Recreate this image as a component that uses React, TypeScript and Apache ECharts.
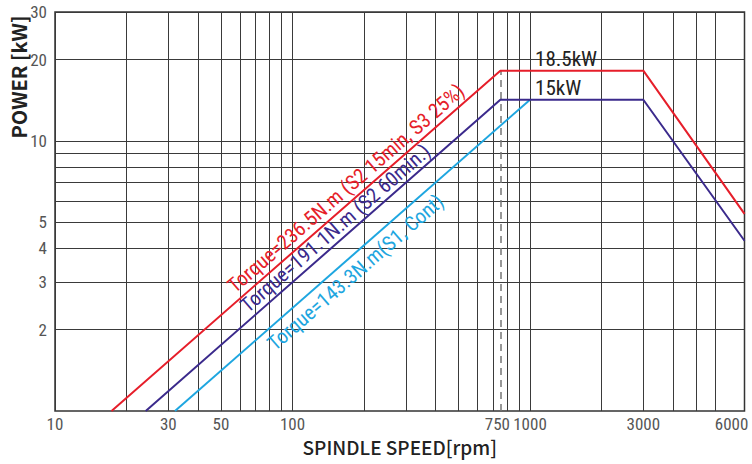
import React, { useEffect, useRef } from "react";
import * as echarts from "echarts";

// ---- axis ranges (log axes) ----
const X_MIN = 10;
const X_MAX = 8000;
const Y_MIN = 1;
const Y_MAX = 30;

// ---- grid lines and tick labels ----
const xGridValues = [20, 30, 40, 50, 60, 70, 80, 90, 100, 200, 300, 400, 500, 600, 700, 800, 900, 1000, 2000, 3000, 4000, 5000, 6000];
const xTickLabels = [10, 30, 50, 100, 1000, 3000, 6000];
const yGridValues = [2, 3, 4, 5, 6, 7, 8, 9, 10, 20];
const yTickLabels = [2, 3, 4, 5, 10, 20, 30];
const baseSpeedMark = 750;

// ---- series values (speed rpm, power kW) ----
const s2s3Speed = [17.3, 750, 3000, 8000];
const s2s3Power = [1, 18.2, 18.2, 5.37];
const s2Speed = [24.1, 750, 3000, 8000];
const s2Power = [1, 14.2, 14.2, 4.27];
const s1Speed = [32, 1000];
const s1Power = [1, 14.2];

// ---- texts ----
const ratedLabels = ["18.5kW", "15kW"];
const torqueLabels = [
  "Torque=236.5N.m (S2 15min, S3 25%)",
  "Torque=191.1N.m (S2 60min.)",
  "Torque=143.3N.m(S1, Cont)",
];
const xAxisName = "SPINDLE SPEED[rpm]";
const yAxisName = "POWER [kW]";

const RED = "#e61e2a";
const NAVY = "#3b2a8c";
const CYAN = "#1ea6e0";
const GRID = "#3a3a3a";
const KR = "'Noto Sans CJK KR', 'Noto Sans', sans-serif";
const COND = "'Roboto Condensed', 'Liberation Sans', sans-serif";

const pairs = (xs: number[], ys: number[]) => xs.map((x, i) => [x, ys[i]]);

export default function App() {
  const ref = useRef<HTMLDivElement>(null);

  useEffect(() => {
    const chart = echarts.init(ref.current!, null, { renderer: "svg" });

    const tickStyle = { color: "#555", fontSize: 17, fontFamily: COND };
    const vLines = [X_MIN, ...xGridValues].map((v) => ({
      xAxis: v,
      label: {
        show: xTickLabels.includes(v),
        formatter: String(v),
        position: "start",
        distance: 4,
        align: v === 6000 ? "left" : "center",
        verticalAlign: "top",
        ...tickStyle,
      },
    }));
    const hLines = [...yGridValues, Y_MAX].map((v) => ({
      yAxis: v,
      label: {
        show: yTickLabels.includes(v),
        formatter: String(v),
        position: "start",
        distance: 8,
        align: "right",
        verticalAlign: "middle",
        ...tickStyle,
      },
    }));

    const torqueLabel = (text: string, color: string) => ({
      show: true,
      position: "inside",
      formatter: text,
      rotate: 41,
      color,
      fontSize: 20.5,
      fontFamily: COND,
    });
    const ratedLabel = (text: string) => ({
      show: true,
      position: "top",
      align: "left",
      distance: 1,
      offset: [5, 0],
      formatter: text,
      color: "#222",
      fontSize: 21,
      fontFamily: COND,
    });
    const markPointBase = {
      silent: true,
      animation: false,
      symbol: "circle",
      symbolSize: 1,
      itemStyle: { color: "rgba(0,0,0,0)" },
    };

    chart.setOption({
      animation: false,
      backgroundColor: "#ffffff",
      grid: {
        left: 55,
        right: 7.5,
        top: 12,
        bottom: 53,
        show: true,
        borderColor: "#333",
        borderWidth: 1.5,
      },
      xAxis: {
        type: "log",
        logBase: 10,
        min: X_MIN,
        max: X_MAX,
        axisLine: { show: false },
        axisTick: { show: false },
        axisLabel: { show: false },
        splitLine: { show: false },
        name: xAxisName,
        nameLocation: "middle",
        nameGap: 26,
        nameTextStyle: { fontFamily: KR, fontWeight: 500, fontSize: 19, color: "#222" },
      },
      yAxis: {
        type: "log",
        logBase: 10,
        min: Y_MIN,
        max: Y_MAX,
        axisLine: { show: false },
        axisTick: { show: false },
        axisLabel: { show: false },
        splitLine: { show: false },
      },
      graphic: [
        {
          type: "text",
          x: 18,
          y: 77,
          rotation: Math.PI / 2,
          style: {
            text: yAxisName,
            align: "center",
            verticalAlign: "middle",
            fontFamily: KR,
            fontWeight: 700,
            fontSize: 20,
            fill: "#222",
          },
        },
      ],
      series: [
        {
          name: "S1 Cont",
          type: "line",
          data: pairs(s1Speed, s1Power),
          symbol: "none",
          z: 10,
          lineStyle: { color: CYAN, width: 2 },
          markLine: {
            silent: true,
            animation: false,
            symbol: ["none", "none"],
            lineStyle: { color: GRID, width: 1, type: "solid" },
            emphasis: { disabled: true },
            data: [...vLines, ...hLines],
          },
          markPoint: {
            ...markPointBase,
            data: [{ coord: [184.2, 3.26], label: torqueLabel(torqueLabels[2], CYAN) }],
          },
        },
        {
          name: "S2 60min",
          type: "line",
          data: pairs(s2Speed, s2Power),
          symbol: "none",
          z: 10,
          lineStyle: { color: NAVY, width: 2 },
          markPoint: {
            ...markPointBase,
            data: [
              { coord: [151.5, 4.75], label: torqueLabel(torqueLabels[1], NAVY) },
              { coord: [1000, s2Power[1]], label: ratedLabel(ratedLabels[1]) },
            ],
          },
        },
        {
          name: "S2 15min, S3 25%",
          type: "line",
          data: pairs(s2s3Speed, s2s3Power),
          symbol: "none",
          z: 10,
          lineStyle: { color: RED, width: 2 },
          markLine: {
            silent: true,
            animation: false,
            symbol: ["none", "none"],
            lineStyle: { color: "#777", width: 1.5, type: [7, 5] },
            emphasis: { disabled: true },
            label: {
              show: true,
              formatter: String(baseSpeedMark),
              position: "start",
              distance: 4,
              align: "center",
              verticalAlign: "top",
              padding: [0, 6, 0, 0],
              ...tickStyle,
            },
            data: [[{ coord: [baseSpeedMark, Y_MIN] }, { coord: [baseSpeedMark, s2s3Power[1]] }]],
          },
          markPoint: {
            ...markPointBase,
            data: [
              { coord: [167.8, 6.68], label: torqueLabel(torqueLabels[0], RED) },
              { coord: [1000, s2s3Power[1]], label: ratedLabel(ratedLabels[0]) },
            ],
          },
        },
      ],
    });

    return () => chart.dispose();
  }, []);

  return (
    <div
      ref={ref}
      style={{ position: "fixed", left: 0, top: 0, width: 752, height: 464, background: "#fff" }}
    />
  );
}
